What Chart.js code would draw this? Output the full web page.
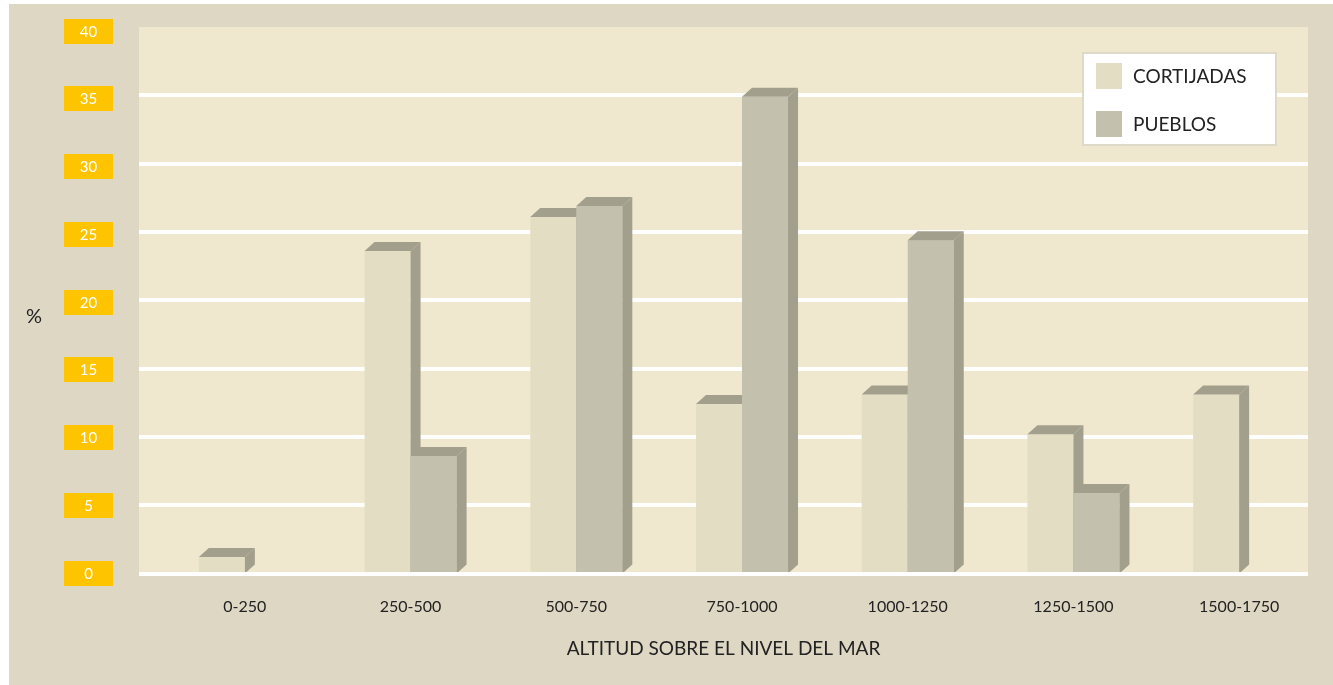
<!DOCTYPE html>
<html>
<head>
<meta charset="utf-8">
<script src="https://cdn.jsdelivr.net/npm/chart.js@4.4.0/dist/chart.umd.min.js"></script>
<style>
  html, body { margin: 0; padding: 0; background: #fff; }
  #wrap { width: 1333px; height: 685px; }
</style>
</head>
<body>
<div id="wrap"><canvas id="altitudChart"></canvas></div>
<script>
// datos del grafico
const categorias = ['0-250', '250-500', '500-750', '750-1000', '1000-1250', '1250-1500', '1500-1750'];
const cortijadas = [1.2, 23.6, 26.1, 12.4, 13.1, 10.2, 13.1];
const pueblos = [null, 8.6, 26.9, 34.9, 24.4, 5.9, null];
const ticksY = [0, 5, 10, 15, 20, 25, 30, 35, 40];

const FUENTE = 'Lato, "Open Sans", sans-serif';
const FONDO = '#ddd7c4';
const AREA = '#f0e8ce';
const AMARILLO = '#ffc400';
const SOMBRA = '#a39f8d';
const TEXTO = '#222';
const PROF_X = 10, PROF_Y = 9; // profundidad del efecto 3D

// fondo, area del grafico, rejilla y etiquetas del eje y
const fondoPlugin = {
  id: 'fondo',
  beforeDraw(chart) {
    const { ctx, chartArea: a, scales: { y } } = chart;
    ctx.save();
    ctx.fillStyle = FONDO;
    ctx.fillRect(9, 4, chart.width - 9, chart.height - 4);
    const izq = a.left - 23, der = a.right - 14;
    ctx.fillStyle = AREA;
    ctx.fillRect(izq, a.top, der - izq, a.bottom - a.top);
    ctx.fillStyle = '#fff';
    ticksY.forEach(v => {
      if (v === 0 || v === 40) return;
      const py = Math.round(y.getPixelForValue(v));
      ctx.fillRect(izq, py - 2, der - izq, 4);
    });
    // cajas amarillas del eje y
    ctx.font = '15px ' + FUENTE;
    ctx.textAlign = 'center';
    ctx.textBaseline = 'middle';
    const yArriba = a.top + 3.5, yAbajo = a.bottom - 1;
    ticksY.forEach(v => {
      const t = (y.max - v) / (y.max - y.min);
      const py = Math.round(yArriba + t * (yAbajo - yArriba));
      ctx.fillStyle = AMARILLO;
      ctx.fillRect(Math.round(a.left - 98), py - 12, 49, 25);
      ctx.fillStyle = '#fff';
      ctx.fillText(String(v), a.left - 73.5, py + 1);
    });
    ctx.fillStyle = TEXTO;
    ctx.font = '20px ' + FUENTE;
    ctx.fillText('%', a.left - 128, (a.top + a.bottom) / 2 + 16);
    // titulo del eje x, centrado en el area
    ctx.font = '19px ' + FUENTE;
    ctx.fillText('ALTITUD SOBRE EL NIVEL DEL MAR', (izq + der) / 2, 649);
    ctx.restore();
  }
};

// barras con cara superior y lateral
const barras3dPlugin = {
  id: 'barras3d',
  beforeDatasetsDraw(chart) {
    const { ctx, chartArea: a, scales: { y } } = chart;
    const metas = chart.data.datasets.map((ds, d) => chart.getDatasetMeta(d));
    ctx.save();
    categorias.forEach((c, i) => {
      metas.forEach((meta, d) => {
        const ds = chart.data.datasets[d];
        if (ds.data[i] == null) return;
        const { x, y: top, base, width } = meta.data[i].getProps(['x', 'y', 'base', 'width'], true);
        const l = x - width / 2, r = x + width / 2;
        ctx.fillStyle = ds.backgroundColor;
        ctx.fillRect(l, top, width, base - top);
        ctx.fillStyle = SOMBRA;
        ctx.beginPath();
        ctx.moveTo(l, top);
        ctx.lineTo(l + PROF_X, top - PROF_Y);
        ctx.lineTo(r + PROF_X, top - PROF_Y);
        ctx.lineTo(r, top);
        ctx.closePath();
        ctx.fill();
        ctx.beginPath();
        ctx.moveTo(r, top);
        ctx.lineTo(r + PROF_X, top - PROF_Y);
        ctx.lineTo(r + PROF_X, base - PROF_Y);
        ctx.lineTo(r, base);
        ctx.closePath();
        ctx.fill();
      });
    });
    // linea del cero por delante de las barras
    const izq = a.left - 23, der = a.right - 14;
    const p0 = Math.round(y.getPixelForValue(0));
    ctx.fillStyle = '#fff';
    ctx.fillRect(izq, p0 - 2, der - izq, 4);
    ctx.restore();
    return false;
  }
};

// leyenda dentro del area
const leyendaPlugin = {
  id: 'leyenda',
  afterDraw(chart) {
    const { ctx, chartArea: a } = chart;
    const bx = Math.round(a.right - 14 - 226), by = Math.round(a.top + 25);
    ctx.save();
    ctx.fillStyle = '#fff';
    ctx.fillRect(bx, by, 195, 94);
    ctx.strokeStyle = '#dedac9';
    ctx.lineWidth = 2;
    ctx.strokeRect(bx + 1, by + 1, 193, 92);
    ctx.font = '19px ' + FUENTE;
    ctx.textAlign = 'left';
    ctx.textBaseline = 'middle';
    chart.data.datasets.forEach((ds, d) => {
      const sy = by + 11 + d * 48;
      ctx.fillStyle = ds.backgroundColor;
      ctx.fillRect(bx + 14, sy, 26, 26);
      ctx.fillStyle = TEXTO;
      ctx.fillText(ds.label, bx + 51, sy + 14);
    });
    ctx.restore();
  }
};

new Chart(document.getElementById('altitudChart'), {
  type: 'bar',
  data: {
    labels: categorias,
    datasets: [
      { label: 'CORTIJADAS', data: cortijadas, backgroundColor: '#e3dec3', categoryPercentage: 0.5556, barPercentage: 1 },
      { label: 'PUEBLOS', data: pueblos, backgroundColor: '#c3c0ae', categoryPercentage: 0.5556, barPercentage: 1 }
    ]
  },
  options: {
    responsive: true,
    maintainAspectRatio: false,
    animation: false,
    layout: { padding: { left: 162, right: 11, top: 27, bottom: 0 } },
    scales: {
      x: {
        grid: { display: false },
        border: { display: false },
        ticks: { color: TEXTO, font: { family: FUENTE, size: 16 }, padding: 16, maxRotation: 0, autoSkip: false },
        title: { display: false },
        afterFit(s) { s.height = 111.5; }
      },
      y: { display: false, min: 0, max: 40 }
    },
    plugins: {
      legend: { display: false },
      tooltip: { enabled: false }
    }
  },
  plugins: [fondoPlugin, barras3dPlugin, leyendaPlugin]
});
</script>
</body>
</html>
